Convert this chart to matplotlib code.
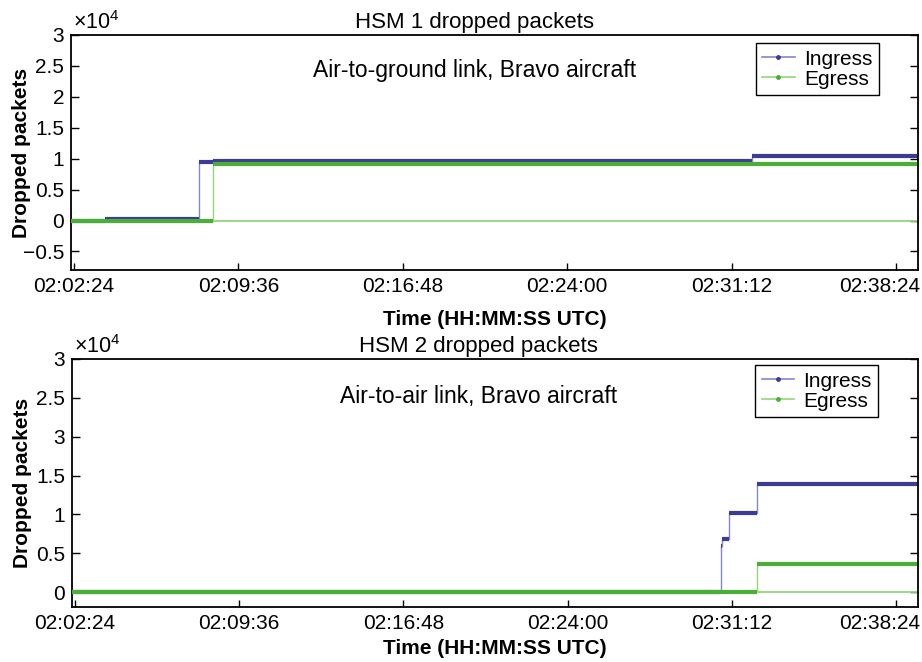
import matplotlib
matplotlib.use("Agg")
import matplotlib.pyplot as plt
from matplotlib.lines import Line2D
from matplotlib.transforms import ScaledTranslation
import numpy as np

plt.rcParams['font.family'] = ['Liberation Sans', 'DejaVu Sans']
plt.rcParams['mathtext.fontset'] = 'custom'
plt.rcParams['mathtext.rm'] = 'Liberation Sans'
plt.rcParams['mathtext.it'] = 'Liberation Sans'

# ---- data (time in seconds after midnight UTC, values in packets) ----
t_start = 7337
t_end = 9560

hsm1_ing_t = [7337, 7425, 7672, 7709, 9126, 9560]
hsm1_ing_v = [0, 300, 9400, 9600, 10400, 10400]
hsm1_egr_t = [7337, 7709, 9560]
hsm1_egr_v = [0, 9200, 9200]

hsm2_ing_t = [7337, 9044, 9047, 9066, 9138, 9560]
hsm2_ing_v = [0, 6000, 6800, 10200, 13900, 13900]
hsm2_egr_t = [7337, 9138, 9560]
hsm2_egr_v = [0, 3600, 3600]

xtick_secs = [7344, 7776, 8208, 8640, 9072, 9504]

top_yticks = [-5000, 0, 5000, 10000, 15000, 20000, 25000, 30000]
top_ylabels = ['\u22120.5', '0', '0.5', '1', '1.5', '2', '2.5', '3']
bot_yticks = [0, 5000, 10000, 15000, 20000, 25000, 30000]
bot_ylabels = ['0', '0.5', '1', '1.5', '3', '2.5', '3']

titles = ['HSM 1 dropped packets', 'HSM 2 dropped packets']
notes = ['Air-to-ground link, Bravo aircraft', 'Air-to-air link, Bravo aircraft']
series_names = ['Ingress', 'Egress']

# ---- style ----
ING_DARK, ING_LIGHT = '#3b3b98', '#8585cf'
EGR_DARK, EGR_LIGHT = '#4aae37', '#95d678'

W, H = 922, 662
fig = plt.figure(figsize=(W / 100, H / 100), dpi=100)


def ax_rect(l, t, r, b):
    return [l / W, 1 - b / H, (r - l) / W, (b - t) / H]


def fmt_time(s):
    s = int(round(s))
    return f"{s // 3600:02d}:{(s % 3600) // 60:02d}:{s % 60:02d}"


def draw_series(ax, t, v, dark, light, baseline):
    t = np.asarray(t, float)
    v = np.asarray(v, float)
    # thin connecting trace (steps)
    ax.plot(t, v, drawstyle='steps-post', color=light, lw=1.0, zorder=2)
    if baseline:
        j = int(np.argmax(np.diff(v) > 1000)) + 1
        ax.plot([t[j], t_end], [0, 0], color=light, lw=1.3, zorder=2.5)
    # thick dense-sample plateaus
    ax.hlines(v[:-1], t[:-1], t[1:], color=dark, lw=3.0, zorder=3)


panels = [
    (ax_rect(71, 35, 918, 270), (-8000, 30000), top_yticks, top_ylabels,
     (hsm1_ing_t, hsm1_ing_v, hsm1_egr_t, hsm1_egr_v), (0.954, 0.966),
     (0.476, 0.476), 10),
    (ax_rect(72, 359, 918, 607), (-1900, 30000), bot_yticks, bot_ylabels,
     (hsm2_ing_t, hsm2_ing_v, hsm2_egr_t, hsm2_egr_v), (0.953, 0.976),
     (0.48, 0.48), 4),
]

for i, (rect, ylim, yt, yl, data, lg, tx, lp) in enumerate(panels):
    ax = fig.add_axes(rect)
    it, iv, et, ev = data
    draw_series(ax, it, iv, ING_DARK, ING_LIGHT, False)
    draw_series(ax, et, ev, EGR_DARK, EGR_LIGHT, True)

    ax.set_xlim(t_start - 1, t_end + 2)
    ax.set_ylim(*ylim)
    ax.set_xticks(xtick_secs)
    ax.set_xticklabels([fmt_time(s) for s in xtick_secs])
    ax.set_yticks(yt)
    ax.set_yticklabels(yl)
    ax.tick_params(direction='in', length=6, width=1.0, labelsize=15,
                   right=True, top=False, pad=5, colors='black')
    ax.tick_params(axis='x', length=5)
    for sp in ax.spines.values():
        sp.set_linewidth(1.3)
    last = ax.get_xticklabels()[-1]
    last.set_transform(last.get_transform() +
                       ScaledTranslation(-0.16, 0, fig.dpi_scale_trans))

    ax.set_ylabel('Dropped packets', fontsize=15, fontweight='bold')
    ax.yaxis.set_label_coords(-0.047, 0.5)
    ax.set_xlabel('Time (HH:MM:SS UTC)', fontsize=15, fontweight='bold',
                  labelpad=lp)
    ax.text(tx[0], 1.01, titles[i], transform=ax.transAxes, ha='center',
            va='bottom', fontsize=16)
    ax.text(tx[1], 0.85, notes[i], transform=ax.transAxes, ha='center',
            va='center', fontsize=16.5)
    ax.text(0.002, 1.005, r'$\times10^4$', transform=ax.transAxes,
            ha='left', va='bottom', fontsize=15.5)

    handles = [
        Line2D([], [], color=ING_LIGHT, lw=1.2, marker='.', markersize=5,
               markerfacecolor=ING_DARK, markeredgecolor=ING_DARK),
        Line2D([], [], color=EGR_LIGHT, lw=1.2, marker='.', markersize=5,
               markerfacecolor=EGR_DARK, markeredgecolor=EGR_DARK),
    ]
    leg = ax.legend(handles, series_names, loc='upper right',
                    bbox_to_anchor=lg, fontsize=15, frameon=True,
                    fancybox=False, edgecolor='black', framealpha=1,
                    handlelength=1.55, handletextpad=0.45, borderpad=0.32,
                    labelspacing=0.05, borderaxespad=0)
    leg.get_frame().set_linewidth(1.0)

fig.savefig('out.png', dpi=100)
